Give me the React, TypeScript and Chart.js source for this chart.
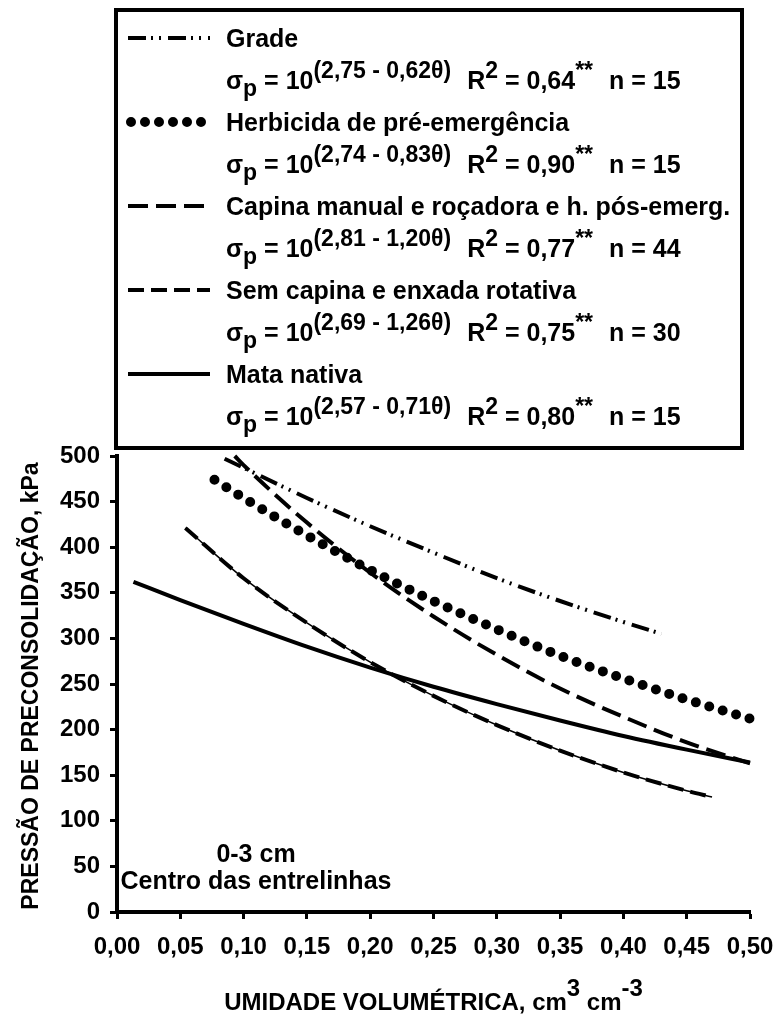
import React, { useEffect, useRef } from 'react';
import { Chart, registerables } from 'chart.js';
Chart.register(...registerables);

const FONT = '"Liberation Sans", Arial, Helvetica, sans-serif';

const xTicks = [0, 0.05, 0.1, 0.15, 0.2, 0.25, 0.3, 0.35, 0.4, 0.45, 0.5];
const yTicks = [0, 50, 100, 150, 200, 250, 300, 350, 400, 450, 500];

const gradeX = [0.085, 0.1, 0.15, 0.2, 0.25, 0.3, 0.35, 0.4, 0.43];
const gradeY = [497, 487, 454, 423, 394, 366, 341, 318, 305];
const herbX = [0.077, 0.1, 0.15, 0.2, 0.25, 0.3, 0.35, 0.4, 0.45, 0.5];
const herbY = [474, 454, 413, 375, 341, 310, 281, 256, 233, 212];
const capinaX = [0.093, 0.1, 0.15, 0.2, 0.25, 0.3, 0.35, 0.4, 0.45, 0.5];
const capinaY = [500, 490, 427, 372, 324, 282, 245, 214, 186, 163];
const semX = [0.054, 0.1, 0.15, 0.2, 0.25, 0.3, 0.35, 0.4, 0.45, 0.47];
const semY = [421, 366, 317, 274, 237, 205, 177, 153, 133, 126];
const mataX = [0.013, 0.05, 0.1, 0.15, 0.2, 0.25, 0.3, 0.35, 0.4, 0.45, 0.5];
const mataY = [362, 342, 316, 291, 268, 247, 228, 210, 193, 178, 164];

const seriesNames = [
  'Grade',
  'Herbicida de pré-emergência',
  'Capina manual e roçadora e h. pós-emerg.',
  'Sem capina e enxada rotativa',
  'Mata nativa',
];
const eqA = ['2,75', '2,74', '2,81', '2,69', '2,57'];
const eqB = ['0,62', '0,83', '1,20', '1,26', '0,71'];
const eqR2 = ['0,64', '0,90', '0,77', '0,75', '0,80'];
const eqN = ['15', '15', '44', '30', '15'];

const xTitle = 'UMIDADE VOLUMÉTRICA, cm';
const yTitle = 'PRESSÃO DE PRECONSOLIDAÇÃO, kPa';
const noteLines = ['0-3 cm', 'Centro das entrelinhas'];

const pts = (xs: number[], ys: number[]) => xs.map((x, i) => ({ x, y: ys[i] }));

type Part = { t: string; sup?: boolean; sub?: boolean; gap?: number };

function drawRich(ctx: CanvasRenderingContext2D, x: number, y: number, parts: Part[], size: number, supSize: number, supRise = 0.5) {
  let cx = x;
  for (const p of parts) {
    cx += p.gap || 0;
    const fs = p.sup || p.sub ? supSize : size;
    ctx.font = `bold ${fs}px ${FONT}`;
    const dy = p.sup ? -size * supRise : p.sub ? size * 0.28 : 0;
    ctx.fillText(p.t, cx, y + dy);
    cx += ctx.measureText(p.t).width;
  }
  return cx - x;
}

function measureRich(ctx: CanvasRenderingContext2D, parts: Part[], size: number, supSize: number) {
  let w = 0;
  for (const p of parts) {
    const fs = p.sup || p.sub ? supSize : size;
    ctx.font = `bold ${fs}px ${FONT}`;
    w += ctx.measureText(p.t).width + (p.gap || 0);
  }
  return w;
}

const styles = [
  { dash: [18, 5, 2, 6, 2, 7], width: 4, cap: 'butt' },
  { dash: [0, 14], width: 10, cap: 'round' },
  { dash: [20, 8], width: 4, cap: 'butt' },
  { dash: [16, 7], width: 4, cap: 'butt' },
  { dash: [], width: 4, cap: 'butt' },
];

const overlay = {
  id: 'overlay',
  afterDraw(chart: any) {
    const ctx: CanvasRenderingContext2D = chart.ctx;
    const area = chart.chartArea;
    ctx.save();
    ctx.fillStyle = '#000';
    ctx.strokeStyle = '#000';
    const bx = 116, by = 10, bw = 742 - 116, bh = 448 - 10;
    ctx.fillStyle = '#fff';
    ctx.fillRect(bx, by, bw, bh);
    ctx.lineWidth = 4;
    ctx.strokeRect(bx, by, bw, bh);
    ctx.fillStyle = '#000';
    ctx.textBaseline = 'alphabetic';
    ctx.textAlign = 'left';
    const size = 25, sup = 23;
    const rowH = 42;
    for (let i = 0; i < 5; i++) {
      const yName = 47 + i * 2 * rowH;
      const yEq = yName + rowH;
      const st = styles[i];
      ctx.save();
      ctx.lineWidth = st.width;
      ctx.lineCap = st.cap as CanvasLineCap;
      ctx.setLineDash(st.dash);
      ctx.beginPath();
      ctx.moveTo(i === 1 ? 131 : 128, yName - 9);
      ctx.lineTo(210, yName - 9);
      ctx.stroke();
      ctx.restore();
      ctx.font = `bold ${size}px ${FONT}`;
      ctx.fillText(seriesNames[i], 226, yName);
      drawRich(ctx, 226, yEq, [
        { t: 'σ' }, { t: 'p', sub: true }, { t: ' = 10' },
        { t: `(${eqA[i]} - ${eqB[i]}θ)`, sup: true },
        { t: 'R', gap: 16 }, { t: '2', sup: true }, { t: ` = ${eqR2[i]}` },
        { t: '**', sup: true }, { t: `n = ${eqN[i]}`, gap: 16 },
      ], size, sup, 0.45);
    }
    // y title
    ctx.save();
    ctx.translate(32, (area.top + area.bottom) / 2 + 2);
    ctx.rotate(-Math.PI / 2);
    ctx.textAlign = 'center';
    ctx.textBaseline = 'middle';
    ctx.font = `bold 23px ${FONT}`;
    ctx.fillText(yTitle, 0, 0);
    ctx.restore();
    // x title
    const xParts: Part[] = [{ t: xTitle }, { t: '3', sup: true }, { t: ' cm' }, { t: '-3', sup: true }];
    const w = measureRich(ctx, xParts, 24, 24);
    drawRich(ctx, (area.left + area.right) / 2 - w / 2, 1010, xParts, 24, 24, 0.6);
    // note
    ctx.textAlign = 'center';
    ctx.font = `bold 25px ${FONT}`;
    ctx.fillText(noteLines[0], 256, 862);
    ctx.fillText(noteLines[1], 256, 889);
    ctx.restore();
  },
};

export default function App() {
  const ref = useRef<HTMLCanvasElement>(null);
  useEffect(() => {
    if (!ref.current) return;
    const tickFont = { family: FONT, size: 24, weight: 'bold' as const };
    const mk = (label: string, data: any[], i: number, extra: any = {}) => ({
      label,
      data,
      borderColor: '#000',
      backgroundColor: '#000',
      borderWidth: styles[i].width,
      borderDash: styles[i].dash,
      borderCapStyle: styles[i].cap,
      pointRadius: 0,
      fill: false,
      clip: 8,
      cubicInterpolationMode: 'monotone',
      ...extra,
    });
    const chart = new Chart(ref.current, {
      type: 'line',
      data: {
        datasets: [
          mk(seriesNames[0], pts(gradeX, gradeY), 0),
          mk(seriesNames[1], pts(herbX, herbY), 1),
          mk(seriesNames[2], pts(capinaX, capinaY), 2),
          mk(seriesNames[3] + ' (linha)', pts(semX, semY), 4, { borderWidth: 1.5 }),
          mk(seriesNames[3], pts(semX, semY), 3),
          mk(seriesNames[4], pts(mataX, mataY), 4),
        ] as any,
      },
      options: {
        responsive: false,
        animation: false,
        devicePixelRatio: 1,
        layout: { padding: { top: 456, right: 29, left: 0, bottom: 0 } },
        plugins: { legend: { display: false }, tooltip: { enabled: false } },
        scales: {
          x: {
            type: 'linear',
            min: 0,
            max: 0.5,
            afterBuildTicks: (s: any) => { s.ticks = xTicks.map((v) => ({ value: v })); },
            afterFit: (s: any) => { s.height = 106; s.paddingLeft = 0; s.paddingRight = 0; },
            ticks: {
              font: tickFont,
              color: '#000',
              padding: 14,
              maxRotation: 0,
              autoSkip: false,
              callback: (v: any) => Number(v).toFixed(2).replace('.', ','),
            },
            grid: { drawOnChartArea: false, drawTicks: true, tickLength: 7, tickWidth: 3, tickColor: '#000' },
            border: { display: true, color: '#000', width: 4 },
          },
          y: {
            type: 'linear',
            min: 0,
            max: 500,
            afterBuildTicks: (s: any) => { s.ticks = yTicks.map((v) => ({ value: v })); },
            afterFit: (s: any) => { s.width = 117; s.paddingTop = 0; s.paddingBottom = 0; },
            ticks: { font: tickFont, color: '#000', padding: 10, autoSkip: false },
            grid: { drawOnChartArea: false, drawTicks: true, tickLength: 7, tickWidth: 3, tickColor: '#000' },
            border: { display: true, color: '#000', width: 4 },
          },
        },
      } as any,
      plugins: [overlay],
    });
    return () => chart.destroy();
  }, []);
  return (
    <div style={{ position: 'fixed', left: 0, top: 0, width: 779, height: 1018, background: '#fff' }}>
      <canvas ref={ref} width={779} height={1018} style={{ width: 779, height: 1018, display: 'block' }} />
    </div>
  );
}
